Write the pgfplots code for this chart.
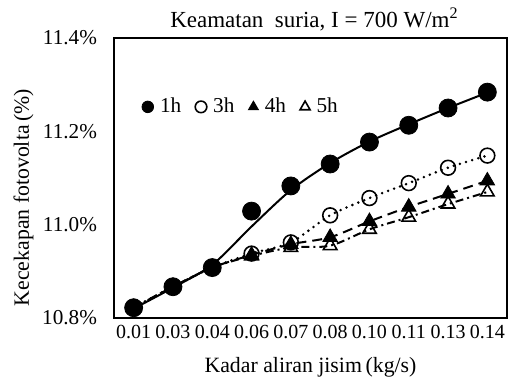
\documentclass[border=0pt]{standalone}
\usepackage{pgfplots}
\pgfplotsset{compat=1.18}
\usepackage{fontspec}
\setmainfont{Liberation Serif}
\pgfplotstableread{
x h1 h1line h3 h4 h5
0 10.822 10.820 10.822 10.822 10.822
1 10.867 10.865 10.867 10.867 10.867
2 10.908 10.914 10.908 10.908 10.908
3 11.029 10.996 10.938 10.935 10.933
4 11.083 11.074 10.962 10.958 10.951
5 11.130 11.132 11.020 10.973 10.955
6 11.177 11.178 11.057 11.007 10.990
7 11.213 11.215 11.089 11.038 11.016
8 11.250 11.250 11.122 11.066 11.044
9 11.284 11.283 11.148 11.094 11.070
}\data
\begin{document}
\begin{tikzpicture}
\useasboundingbox (-57pt,-32.5pt) rectangle (197pt,159pt);
\begin{axis}[
  at={(0,0)}, anchor=south west,
  scale only axis, width=196.5pt, height=140pt,
  xmin=-0.5, xmax=9.5, ymin=10.8, ymax=11.4,
  xtick={0,...,9},
  xticklabels={0.01,0.03,0.04,0.06,0.07,0.08,0.10,0.11,0.13,0.14},
  ytick={10.8,11.0,11.2,11.4},
  yticklabels={10.8\%,11.0\%,11.2\%,11.4\%},
  major tick length=0,
  axis line style={line width=1pt},
  xticklabel style={font=\fontsize{10}{12}\selectfont},
  yticklabel style={xshift=-5pt, font=\fontsize{10.6}{12}\selectfont},
  every axis title shift=0pt,
  title={Keamatan\ \ suria, I = 700 W/m\textsuperscript{2}},
  title style={at={(axis description cs:0.51,1.039)}, anchor=base, font=\fontsize{11.5}{13}\selectfont},
  xlabel={Kadar aliran jisim\,(kg/s)},
  xlabel style={at={(axis description cs:0.5,-0.1964)}, anchor=base, font=\fontsize{10.9}{12}\selectfont},
  ylabel={Kecekapan fotovolta\,(\%)},
  ylabel style={at={(axis description cs:-0.2163,0.43)}, anchor=base, font=\fontsize{10.9}{12}\selectfont},
  legend columns=-1,
  legend style={at={(axis description cs:0.055,0.754)}, anchor=west, draw=none, fill=none,
    font=\fontsize{10.6}{12}\selectfont},
  legend image code/.code={\draw[#1, mark size=2.9pt] plot coordinates {(0cm,0cm)};},
]
\addplot[only marks, mark=*, mark size=4.5pt, black] table[x=x,y=h1]{\data};
\addlegendentry{\rule{1.2pt}{0pt}1h\rule{5pt}{0pt}}
\addplot[only marks, mark=o, mark size=3.7pt, black, line width=0.8pt] table[x=x,y=h3]{\data};
\addlegendentry{\rule{1.2pt}{0pt}3h\rule{5pt}{0pt}}
\addplot[only marks, mark=triangle*, mark size=4.2pt, black] table[x=x,y=h4]{\data};
\addlegendentry{\rule{1.2pt}{0pt}4h\rule{5pt}{0pt}}
\addplot[only marks, mark=triangle, mark size=3.9pt, black, line width=0.8pt] table[x=x,y=h5]{\data};
\addlegendentry{\rule{1.2pt}{0pt}5h}
\addplot[forget plot, smooth, black, line width=1pt] table[x=x,y=h1line]{\data};
\addplot[forget plot, smooth, black, line width=1.4pt, dash pattern=on 0pt off 3.2pt, line cap=round] table[x=x,y=h3]{\data};
\addplot[forget plot, smooth, black, line width=1pt, dash pattern=on 5pt off 3pt] table[x=x,y=h4]{\data};
\addplot[forget plot, smooth, black, line width=1pt, dash pattern=on 4pt off 2pt on 1pt off 2pt] table[x=x,y=h5]{\data};
\end{axis}
\end{tikzpicture}
\end{document}
